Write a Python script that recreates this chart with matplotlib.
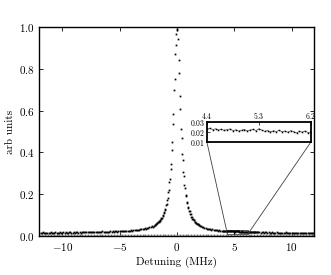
import numpy as np
import matplotlib
matplotlib.use("Agg")
import matplotlib.pyplot as plt
from mpl_toolkits.axes_grid1.inset_locator import mark_inset

plt.rcParams['font.family'] = 'serif'
plt.rcParams['font.serif'] = ['cmr10', 'DejaVu Serif']
plt.rcParams['mathtext.fontset'] = 'cm'
plt.rcParams['axes.formatter.use_mathtext'] = True

# measured signal, sampled on a few grids (MHz)
x_left = np.arange(-12.0, -2.05, 0.1)
y_left = [0.016, 0.013, 0.015, 0.017, 0.014, 0.015, 0.012, 0.016, 0.015, 0.014,
          0.017, 0.015, 0.014, 0.016, 0.018, 0.015, 0.013, 0.016, 0.017, 0.015,
          0.016, 0.018, 0.015, 0.017, 0.014, 0.016, 0.019, 0.017, 0.015, 0.016,
          0.018, 0.016, 0.017, 0.019, 0.016, 0.018, 0.015, 0.017, 0.019, 0.018,
          0.017, 0.019, 0.018, 0.020, 0.017, 0.019, 0.021, 0.018, 0.017, 0.019,
          0.020, 0.018, 0.021, 0.019, 0.020, 0.022, 0.019, 0.018, 0.021, 0.020,
          0.021, 0.020, 0.022, 0.021, 0.023, 0.020, 0.022, 0.023, 0.021, 0.022,
          0.023, 0.022, 0.024, 0.023, 0.025, 0.024, 0.023, 0.025, 0.026, 0.025,
          0.027, 0.026, 0.028, 0.027, 0.029, 0.028, 0.030, 0.029, 0.031, 0.032,
          0.034, 0.033, 0.036, 0.035, 0.038, 0.037, 0.042, 0.041, 0.046, 0.045]

x_peak = np.arange(-2.0, 2.025, 0.05)
y_peak = [0.049, 0.053, 0.052, 0.057, 0.056, 0.061, 0.060, 0.066, 0.065, 0.072,
          0.071, 0.078, 0.079, 0.087, 0.088, 0.097, 0.099, 0.111, 0.113, 0.126,
          0.129, 0.147, 0.151, 0.174, 0.181, 0.210, 0.221, 0.257, 0.272, 0.322,
          0.346, 0.413, 0.448, 0.538, 0.585, 0.697, 0.752, 0.872, 0.915, 0.968,
          0.992,
          0.985, 0.941, 0.842, 0.781, 0.668, 0.609, 0.512, 0.468, 0.391, 0.362,
          0.305, 0.285, 0.243, 0.229, 0.198, 0.189, 0.164, 0.158, 0.139, 0.135,
          0.119, 0.117, 0.104, 0.103, 0.092, 0.091, 0.083, 0.082, 0.075, 0.074,
          0.068, 0.068, 0.063, 0.062, 0.059, 0.057, 0.055, 0.053, 0.052, 0.050]

x_right_a = np.arange(2.1, 3.95, 0.1)
y_right_a = [0.046, 0.042, 0.042, 0.038, 0.038, 0.035, 0.035, 0.032, 0.033, 0.030,
             0.031, 0.028, 0.029, 0.027, 0.028, 0.026, 0.027, 0.025, 0.026]

x_right_b = np.arange(4.0, 6.975, 0.05)
y_right_b = [0.0245, 0.0238, 0.0251, 0.0236, 0.0242, 0.0229, 0.0240, 0.0232,
             0.0228, 0.0236, 0.0224, 0.0231, 0.0219, 0.0226, 0.0215, 0.0223, 0.0229, 0.0214, 0.0221, 0.0208,
             0.0217, 0.0224, 0.0210, 0.0219, 0.0226, 0.0213, 0.0231, 0.0218, 0.0205, 0.0214,
             0.0199, 0.0211, 0.0203, 0.0216, 0.0201, 0.0209, 0.0196, 0.0212, 0.0203, 0.0190,
             0.0205, 0.0197, 0.0209, 0.0192, 0.0201, 0.0195, 0.0188, 0.0199, 0.0191, 0.0186,
             0.0196, 0.0189, 0.0183, 0.0194, 0.0185, 0.0190, 0.0181, 0.0188, 0.0179, 0.0186]

x_right_c = np.arange(7.0, 12.05, 0.1)
y_right_c = [0.018,
             0.017, 0.019, 0.016, 0.018, 0.017, 0.016, 0.018, 0.017, 0.015, 0.017,
             0.016, 0.015, 0.017, 0.016, 0.014, 0.016, 0.017, 0.015, 0.016, 0.014,
             0.015, 0.016, 0.014, 0.015, 0.017, 0.014, 0.015, 0.016, 0.013, 0.015,
             0.014, 0.016, 0.015, 0.013, 0.015, 0.014, 0.016, 0.014, 0.013, 0.015,
             0.014, 0.013, 0.015, 0.014, 0.012, 0.014, 0.015, 0.013, 0.014, 0.013]

# background trace (grey, near zero)
x_bg = np.arange(-12.0, 12.1, 0.25)
y_bg = [0.004, 0.005, 0.003, 0.004, 0.005, 0.004, 0.003, 0.005, 0.004, 0.004,
        0.005, 0.003, 0.004, 0.004, 0.005, 0.004, 0.003, 0.004, 0.005, 0.004,
        0.004, 0.003, 0.005, 0.004, 0.004, 0.005, 0.003, 0.004, 0.004, 0.005,
        0.004, 0.003, 0.004, 0.005, 0.004, 0.004, 0.003, 0.005, 0.004, 0.004,
        0.005, 0.004, 0.003, 0.004, 0.005, 0.004, 0.004, 0.003, 0.005, 0.004,
        0.004, 0.005, 0.003, 0.004, 0.004, 0.005, 0.004, 0.003, 0.004, 0.005,
        0.004, 0.004, 0.003, 0.005, 0.004, 0.004, 0.005, 0.003, 0.004, 0.004,
        0.005, 0.004, 0.003, 0.004, 0.005, 0.004, 0.004, 0.003, 0.005, 0.004,
        0.004, 0.005, 0.003, 0.004, 0.004, 0.005, 0.004, 0.003, 0.004, 0.005,
        0.004, 0.004, 0.003, 0.005, 0.004, 0.004, 0.005]

x_all = np.concatenate([x_left, x_peak, x_right_a, x_right_b, x_right_c])
y_all = np.concatenate([y_left, y_peak, y_right_a, y_right_b, y_right_c])

fig = plt.figure(figsize=(3.31, 2.75), dpi=100)
ax = fig.add_axes([0.119, 0.142, 0.831, 0.760])

ax.plot(x_bg, y_bg, 's', ms=1.3, mew=0, color='0.45')
ax.plot(x_all, y_all, 's', ms=1.25, mew=0, color='black')

ax.set_xlim(-12, 12)
ax.set_ylim(0, 1.0)
ax.set_xticks([-10, -5, 0, 5, 10])
ax.set_yticks([0, 0.2, 0.4, 0.6, 0.8, 1.0])
ax.tick_params(direction='in', top=True, right=True, length=3, width=0.6, labelsize=8)
for s in ax.spines.values():
    s.set_linewidth(1.0)
ax.set_xlabel('Detuning (MHz)', fontsize=8, labelpad=3)
ax.set_ylabel('arb units', fontsize=8, labelpad=3)

# zoomed inset
axins = fig.add_axes([0.625, 0.484, 0.3145, 0.0727])
axins.plot(x_all, y_all, '-', lw=0.5, color='0.3')
axins.plot(x_all, y_all, 's', ms=1.1, mew=0, color='black')
axins.set_xlim(4.4, 6.2)
axins.set_ylim(0.01, 0.03)
axins.set_xticks([4.4, 5.3, 6.2])
axins.set_yticks([0.01, 0.02, 0.03])
axins.xaxis.tick_top()
axins.tick_params(direction='in', length=2, width=0.5, labelsize=5.5, pad=1)
for s in axins.spines.values():
    s.set_linewidth(1.3)

mark_inset(ax, axins, loc1=3, loc2=4, fc='none', ec='0.25', lw=0.6)

fig.savefig('out.png', dpi=100)
